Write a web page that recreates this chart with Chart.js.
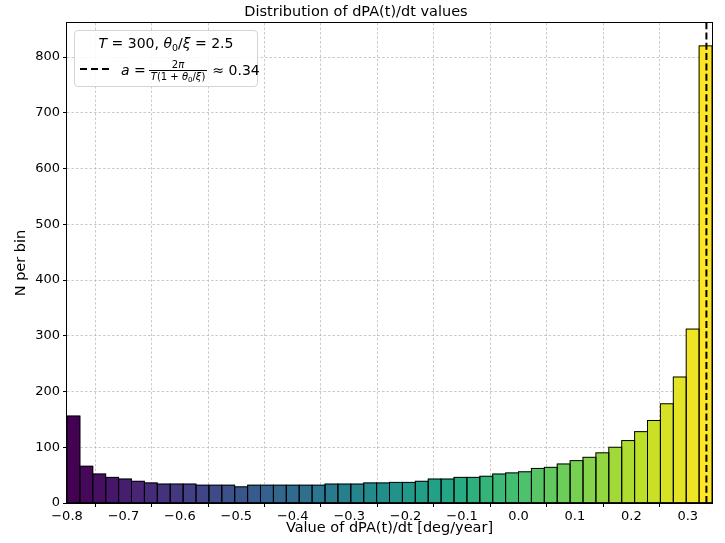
<!DOCTYPE html>
<html>
<head>
<meta charset="utf-8">
<script src="https://cdn.jsdelivr.net/npm/chart.js@4/dist/chart.umd.min.js"></script>
<style>
  html, body { margin: 0; padding: 0; background: #fff; }
  #wrap { position: relative; width: 725px; height: 543px; }
  #legend {
    position: absolute; left: 74px; top: 30px; width: 184px; height: 57px;
    box-sizing: border-box; border: 1px solid #d4d4d4; border-radius: 4px;
    background: rgba(255,255,255,0.85); font-family: 'DejaVu Sans', sans-serif;
    font-size: 14px; color: #000;
  }
  #legend i { font-style: italic; }
  #legend sub { font-size: 9.5px; vertical-align: -3px; line-height: 0; }
  .ltitle { position: absolute; top: 2px; left: 0; width: 100%; text-align: center; line-height: 21px; white-space: nowrap; }
  .dash { position: absolute; left: 5px; top: 37px; width: 30px; height: 2px;
    background: repeating-linear-gradient(to right, #000 0 7px, transparent 7px 11px); }
  .lbl { position: absolute; left: 46px; top: 27px; white-space: nowrap; display: flex; align-items: center; height: 24px; }
  .frac { display: inline-flex; flex-direction: column; align-items: center; font-size: 10px; margin: 0 7px 0 5px; line-height: 11px; }
  .frac .num { border-bottom: 1px solid #000; padding: 0 2px; width: 100%; text-align: center; }
  .frac sub { font-size: 7px !important; vertical-align: -2px !important; }
</style>
</head>
<body>
<div id="wrap">
  <canvas id="c" width="725" height="543"></canvas>
  <div id="legend">
    <div class="ltitle"><i>T</i> = 300, <i>θ</i><sub>0</sub>/<i>ξ</i> = 2.5</div>
    <span class="dash"></span>
    <span class="lbl"><i>a</i>&nbsp;=<span class="frac"><span class="num">2<i>π</i></span><span class="den"><i>T</i>(1 + <i>θ</i><sub>0</sub>/<i>ξ</i>)</span></span>≈&nbsp;0.34</span>
  </div>
</div>
<script>
// ---- data ----
const binStart = -0.8;
const binEnd = 0.3429;
const counts = [156, 66, 52, 46, 43, 39, 36, 34, 34, 34,
                32, 32, 32, 29, 32, 32, 32, 32, 32, 32,
                34, 34, 34, 36, 36, 37, 37, 39, 43, 43,
                46, 46, 48, 52, 54, 56, 62, 64, 70, 76,
                82, 90, 100, 112, 128, 148, 178, 226, 312, 820];
const xTicks = [-0.8, -0.7, -0.6, -0.5, -0.4, -0.3, -0.2, -0.1, 0.0, 0.1, 0.2, 0.3];
const yTicks = [0, 100, 200, 300, 400, 500, 600, 700, 800];
const aValue = 0.333;
const yMax = 861;

// ---- viridis colormap ----
const viridisStops = ['#440154','#482475','#414487','#355f8d','#2a788e','#21918c','#22a884','#44bf70','#7ad151','#bddf26','#fde725'];
function hexToRgb(h){ return [parseInt(h.slice(1,3),16), parseInt(h.slice(3,5),16), parseInt(h.slice(5,7),16)]; }
function viridis(t){
  const s = t * (viridisStops.length - 1);
  const i = Math.min(Math.floor(s), viridisStops.length - 2);
  const f = s - i;
  const a = hexToRgb(viridisStops[i]), b = hexToRgb(viridisStops[i+1]);
  const c = a.map((v,k) => Math.round(v + (b[k]-v)*f));
  return `rgb(${c[0]},${c[1]},${c[2]})`;
}

const binWidth = (binEnd - binStart) / counts.length;
const barData = counts.map((c, i) => ({ x: binStart + (i + 0.5) * binWidth, y: c }));
const barColors = counts.map((c, i) => viridis(i / (counts.length - 1)));

const FONT = "'DejaVu Sans', sans-serif";
const fmtX = v => (v < -1e-9 ? '\u2212' : '') + Math.abs(v).toFixed(1);

const framePlugin = {
  id: 'frame',
  afterDatasetsDraw(chart) {
    const { ctx, chartArea: a, scales } = chart;
    ctx.save();
    // bar edges (matplotlib style: single line on shared edges)
    const meta = chart.getDatasetMeta(0);
    ctx.strokeStyle = '#000';
    ctx.lineWidth = 1;
    meta.data.forEach(el => {
      const p = el.getProps(['x', 'y', 'base', 'width'], true);
      ctx.strokeRect(p.x - p.width / 2, p.y, p.width, p.base - p.y);
    });
    // dashed vertical line at a
    const px = scales.x.getPixelForValue(aValue);
    ctx.lineWidth = 2;
    ctx.setLineDash([7, 3.3]);
    ctx.beginPath();
    ctx.moveTo(px, a.bottom);
    ctx.lineTo(px, a.top);
    ctx.stroke();
    // axes frame
    ctx.setLineDash([]);
    ctx.lineWidth = 1;
    ctx.strokeRect(Math.round(a.left) - 0.5, Math.round(a.top) - 0.5, Math.round(a.right - a.left) + 1, Math.round(a.bottom - a.top) + 1);
    ctx.restore();
    const lg = document.getElementById('legend');
    lg.style.left = (a.left + 7) + 'px';
    lg.style.top = (a.top + 7) + 'px';
  }
};

new Chart(document.getElementById('c'), {
  type: 'bar',
  data: {
    datasets: [{
      data: barData,
      backgroundColor: barColors,
      borderWidth: 0,
      barPercentage: 1,
      categoryPercentage: 1,
      inflateAmount: 0.3
    }]
  },
  options: {
    responsive: false,
    animation: false,
    devicePixelRatio: 1,
    layout: { padding: { left: 0, right: 13, top: 0, bottom: 0 } },
    plugins: {
      legend: { display: false },
      tooltip: { enabled: false },
      title: {
        display: true,
        text: 'Distribution of dPA(t)/dt values',
        color: '#000',
        font: { family: FONT, size: 14.5, weight: 'normal' },
        padding: { top: 4, bottom: 1.6 }
      }
    },
    scales: {
      x: {
        type: 'linear',
        min: binStart,
        max: binEnd,
        offset: false,
        afterBuildTicks: axis => { axis.ticks = xTicks.map(v => ({ value: v })); },
        afterFit: axis => { axis.height = 40; },
        ticks: {
          color: '#000', font: { family: FONT, size: 13 }, padding: 2,
          maxRotation: 0, autoSkip: false,
          callback: v => fmtX(v)
        },
        grid: { color: 'rgba(176,176,176,0.85)', lineWidth: 0.8, tickColor: '#000', tickLength: 4, tickWidth: 1, tickBorderDash: [] },
        border: { display: false, dash: [2.5, 2] },
        title: { display: true, text: 'Value of dPA(t)/dt [deg/year]', color: '#000', font: { family: FONT, size: 14.5 }, padding: { top: 0, bottom: 6 } }
      },
      y: {
        min: 0,
        max: yMax,
        afterBuildTicks: axis => { axis.ticks = yTicks.map(v => ({ value: v })); },
        afterFit: axis => { axis.width = 67; },
        ticks: { color: '#000', font: { family: FONT, size: 13 }, padding: 3, callback: v => String(v) },
        grid: { color: 'rgba(176,176,176,0.85)', lineWidth: 0.8, tickColor: '#000', tickLength: 4, tickWidth: 1, tickBorderDash: [] },
        border: { display: false, dash: [2.5, 2] },
        title: { display: true, text: 'N per bin', color: '#000', font: { family: FONT, size: 14.5 }, padding: { top: 13, bottom: 0 } }
      }
    }
  },
  plugins: [framePlugin]
});
</script>
</body>
</html>
